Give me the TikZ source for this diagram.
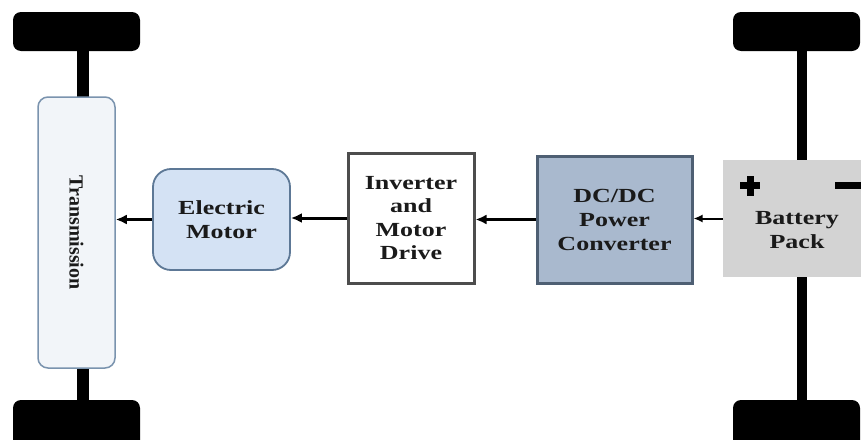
\documentclass[tikz,border=0pt]{standalone}
\usepackage{fontspec}
\setmainfont{Liberation Serif}
\newfontfamily\boxfont[FakeStretch=1.3]{Liberation Serif}
\usetikzlibrary{arrows.meta}
\definecolor{txt}{HTML}{1A1A1A}
\definecolor{trfill}{HTML}{F2F5F9}
\definecolor{trdraw}{HTML}{7A93AE}
\definecolor{mofill}{HTML}{D4E2F4}
\definecolor{modraw}{HTML}{5D7896}
\definecolor{indraw}{HTML}{4D4D4D}
\definecolor{dcfill}{HTML}{A9B9CE}
\definecolor{dcdraw}{HTML}{4E5F73}
\definecolor{batfill}{HTML}{D3D3D3}
\tikzset{
  wheel/.style={fill=black, rounded corners=8pt},
  axle/.style={draw=black, line width=12pt},
  blk/.style={align=center, text=txt, font=\boxfont\bfseries\fontsize{20}{24}\selectfont, inner sep=0pt},
  arr/.style={draw=black, line width=3pt, -{Latex[length=11pt,width=10pt]}},
}
\begin{document}
\begin{tikzpicture}[x=1pt,y=-1pt]
\useasboundingbox (0,0) rectangle (861,439);
\clip (0,0) rectangle (861,439);
\fill[white] (0,0) rectangle (861,439);
% axles
\coordinate (tlw) at (83,31);
\coordinate (blw) at (83,420);
\coordinate (trw) at (802,31);
\coordinate (brw) at (802,420);
\draw[axle] (tlw) -- (blw);
\draw[axle, line width=10pt] (trw) -- (brw);
% wheels
\fill[wheel] (13,12) rectangle (140,51);
\fill[wheel] (13,400) rectangle (140,448);
\fill[wheel] (733,12) rectangle (860,51);
\fill[wheel] (733,400) rectangle (860,448);
% blocks
\node[blk, draw=trdraw, fill=trfill, line width=1.5pt, rounded corners=10pt,
      minimum width=77pt, minimum height=271pt] (tr) at (76.5,232.5) {};
\node[text=txt, font=\bfseries\fontsize{20}{24}\selectfont, rotate=-90] at (tr.center) {Transmission};
\node[blk, draw=modraw, fill=mofill, line width=1.8pt, rounded corners=18pt,
      minimum width=137pt, minimum height=101pt] (mo) at (221.5,219.5) {Electric\\Motor};
\node[blk, draw=indraw, fill=white, line width=3pt,
      minimum width=126pt, minimum height=130pt, font=\boxfont\bfseries\fontsize{20}{23.3}\selectfont] (inv) at (411,218) {Inverter\\and\\Motor\\Drive};
\node[blk, draw=dcdraw, fill=dcfill, line width=3pt,
      minimum width=155pt, minimum height=127pt] (dc) at (614.5,219.5) {DC/DC\\Power\\Converter};
\node[fill=batfill, minimum width=148pt, minimum height=117pt, inner sep=0pt] (bat) at (797,218.5) {};
\node[blk] (battxt) at (797,230) {Battery\\Pack};
% plus and minus
\fill[black] (740,182) rectangle (760,189);
\fill[black] (746.5,175.5) rectangle (753.5,195.5);
\fill[black] (835,182) rectangle (865,189);
% arrows
\draw[arr, line width=2pt, -{Latex[length=9pt,width=8pt]}] (bat.west) -- (dc.east |- bat.west);
\draw[arr] (dc.west) -- (inv.east |- dc.west);
\draw[arr] (inv.west) -- (mo.east |- inv.west);
\draw[arr] (mo.west) -- (tr.east |- mo.west);
\end{tikzpicture}
\end{document}
